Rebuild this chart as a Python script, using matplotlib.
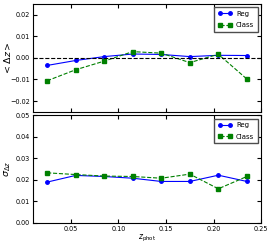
import matplotlib
matplotlib.use("Agg")
import matplotlib.pyplot as plt

# photo-z bins and the two methods
z_phot = [0.025, 0.055, 0.085, 0.115, 0.145, 0.175, 0.205, 0.235]
bias_reg = [-0.0035, -0.0012, 0.0006, 0.0018, 0.0016, 0.0006, 0.0012, 0.0011]
bias_class = [-0.0106, -0.0055, -0.0015, 0.0029, 0.0022, -0.0022, 0.0017, -0.0098]
sigma_reg = [0.0189, 0.0220, 0.0215, 0.0207, 0.0192, 0.0192, 0.0221, 0.0192]
sigma_class = [0.0232, 0.0224, 0.0217, 0.0215, 0.0207, 0.0226, 0.0158, 0.0215]

plt.rcParams.update({
    "font.size": 4.7,
    "xtick.direction": "in",
    "ytick.direction": "in",
    "xtick.top": True,
    "ytick.right": True,
    "xtick.major.size": 3,
    "ytick.major.size": 3,
    "axes.linewidth": 0.8,
    "mathtext.fontset": "dejavusans",
})

fig, (ax1, ax2) = plt.subplots(2, 1, figsize=(2.74, 2.49), dpi=100, sharex=True)
fig.subplots_adjust(left=0.12, right=0.953, top=0.984, bottom=0.105, hspace=0.03)

leg_kw = dict(loc="upper right", numpoints=2, fontsize=5, fancybox=False,
              edgecolor="0.3", framealpha=1, handlelength=2.0,
              borderpad=0.5, labelspacing=0.8, handletextpad=0.6)

ax1.plot(z_phot, bias_reg, "b-o", ms=2.5, lw=0.8, label="Reg")
ax1.plot(z_phot, bias_class, "g--s", ms=2.5, lw=0.8, label="Class")
ax1.axhline(0, color="k", ls="--", lw=0.8)
ax1.set_ylim(-0.025, 0.025)
ax1.set_yticks([-0.02, -0.01, 0.0, 0.01, 0.02])
ax1.set_ylabel(r"$<\Delta z>$", fontsize=6.8)
ax1.yaxis.set_label_coords(-0.088, 0.5)
ax1.legend(**leg_kw)
ax1.tick_params(labelbottom=False, pad=2)

ax2.plot(z_phot, sigma_reg, "b-o", ms=2.5, lw=0.8, label="Reg")
ax2.plot(z_phot, sigma_class, "g--s", ms=2.5, lw=0.8, label="Class")
ax2.set_ylim(0, 0.05)
ax2.set_yticks([0.0, 0.01, 0.02, 0.03, 0.04, 0.05])
ax2.set_xlim(0.01, 0.25)
ax2.set_xticks([0.05, 0.10, 0.15, 0.20, 0.25])
ax2.set_ylabel(r"$\sigma_{\Delta z}$", fontsize=6.8)
ax2.yaxis.set_label_coords(-0.088, 0.5)
ax2.set_xlabel(r"$z_{\rm phot}$", fontsize=5.5, labelpad=1)
ax2.legend(**leg_kw)
ax2.tick_params(pad=2)

fig.savefig("out.png", dpi=100)
